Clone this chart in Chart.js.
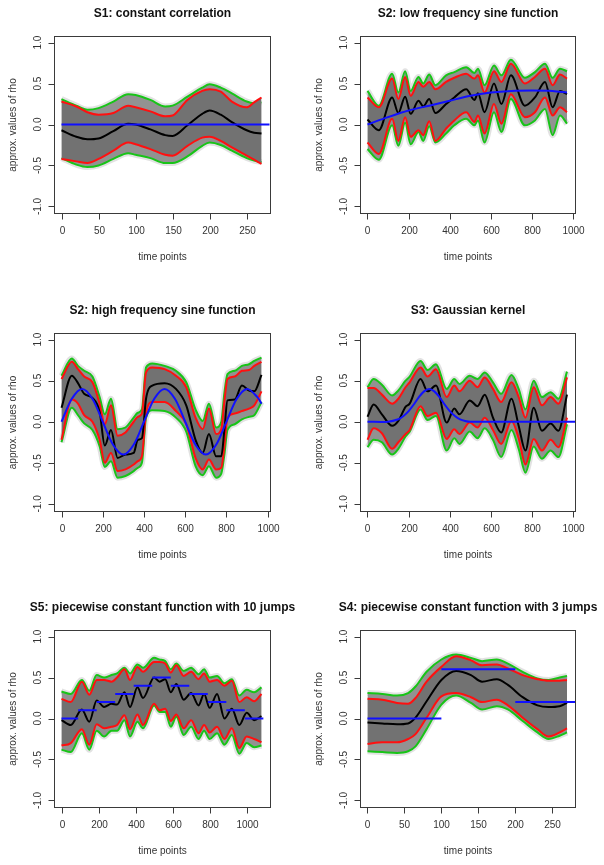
<!DOCTYPE html>
<html>
<head>
<meta charset="utf-8">
<title>rho estimates</title>
<script src="https://cdn.jsdelivr.net/npm/chart.js@4.4.1/dist/chart.umd.min.js"></script>
<style>
  html, body { margin: 0; padding: 0; background: #fff; }
  #wrap { position: relative; width: 604px; height: 865px; overflow: hidden; }
  #wrap canvas { position: absolute; }
</style>
</head>
<body>
<div id="wrap"></div>
<script>
// --- axes / labels ---
const yTicks = [-1, -0.5, 0, 0.5, 1];
const yTickLabels = ['-1.0', '-0.5', '0.0', '0.5', '1.0'];
const xTicks300 = [0, 50, 100, 150, 200, 250];
const xTicks1000 = [0, 200, 400, 600, 800, 1000];
const titles = [
    'S1: constant correlation',
    'S2: low frequency sine function',
    'S2: high frequency sine function',
    'S3: Gaussian kernel',
    'S5: piecewise constant function with 10 jumps',
    'S4: piecewise constant function with 3 jumps'
];

// --- S1 ---
const s1Time     = [0, 20, 35, 50, 70, 90, 100, 120, 140, 150, 170, 190, 200, 215, 230, 250, 260, 270];
const s1Black    = [-0.07, -0.15, -0.18, -0.17, -0.08, 0.01, 0.00, -0.06, -0.13, -0.14, -0.01, 0.13, 0.17, 0.12, 0.03, -0.07, -0.10, -0.11];
const s1RedUp    = [0.28, 0.22, 0.15, 0.12, 0.14, 0.23, 0.21, 0.16, 0.10, 0.11, 0.30, 0.41, 0.43, 0.40, 0.28, 0.21, 0.27, 0.33];
const s1RedLow   = [-0.42, -0.45, -0.47, -0.42, -0.32, -0.22, -0.24, -0.30, -0.37, -0.38, -0.26, -0.16, -0.15, -0.20, -0.28, -0.38, -0.43, -0.48];
const s1GreenUp  = [0.31, 0.23, 0.18, 0.20, 0.28, 0.37, 0.36, 0.30, 0.22, 0.23, 0.34, 0.45, 0.49, 0.45, 0.38, 0.28, 0.26, 0.27];
const s1GreenLow = [-0.41, -0.49, -0.52, -0.50, -0.42, -0.35, -0.37, -0.41, -0.47, -0.47, -0.39, -0.26, -0.22, -0.25, -0.32, -0.41, -0.44, -0.46];
const s1BlueTime = [0, 300];
const s1Blue     = [0, 0];

// --- S2 low frequency ---
const s2lTime     = [0, 55, 120, 150, 183, 210, 248, 271, 300, 330, 382, 422, 480, 520, 537, 569, 615, 651, 697, 765, 814, 863, 900, 936, 970];
const s2lBlack    = [0.06, -0.07, 0.33, 0.14, 0.34, 0.13, 0.29, 0.22, 0.31, 0.14, 0.25, 0.33, 0.43, 0.30, 0.38, 0.15, 0.50, 0.25, 0.60, 0.23, 0.33, 0.52, 0.21, 0.41, 0.37];
const s2lRedUp    = [0.33, 0.21, 0.56, 0.31, 0.58, 0.35, 0.52, 0.46, 0.52, 0.43, 0.52, 0.57, 0.62, 0.56, 0.60, 0.39, 0.65, 0.52, 0.74, 0.50, 0.58, 0.68, 0.48, 0.61, 0.56];
const s2lRedLow   = [-0.22, -0.36, 0.07, -0.20, 0.09, -0.15, -0.07, -0.13, 0.04, -0.20, -0.05, 0.05, 0.15, 0.03, 0.11, -0.11, 0.25, 0.01, 0.37, 0.09, 0.15, 0.33, 0.11, 0.21, 0.15];
const s2lGreenUp  = [0.41, 0.23, 0.62, 0.39, 0.65, 0.41, 0.58, 0.50, 0.61, 0.48, 0.60, 0.64, 0.70, 0.63, 0.68, 0.48, 0.72, 0.60, 0.79, 0.57, 0.64, 0.74, 0.57, 0.68, 0.65];
const s2lGreenLow = [-0.30, -0.43, -0.01, -0.26, 0.02, -0.24, -0.09, -0.20, -0.02, -0.22, -0.11, -0.01, 0.07, -0.01, 0.05, -0.22, 0.15, -0.09, 0.31, -0.01, 0.05, 0.19, -0.13, 0.11, 0.01];
const s2lBlueTime = [0, 100, 200, 300, 400, 500, 600, 700, 800, 900, 970];
const s2lBlue     = [0.00, 0.09, 0.17, 0.23, 0.29, 0.35, 0.39, 0.41, 0.415, 0.41, 0.39];

// --- S2 high frequency ---
const s2hTime     = [0, 50, 80, 110, 150, 185, 210, 240, 272, 310, 350, 370, 390, 410, 440, 500, 555, 605, 650, 685, 715, 750, 775, 790, 805, 840, 875, 910, 935, 970];
const s2hBlack    = [0.17, 0.56, 0.47, 0.34, 0.29, 0.12, -0.29, -0.10, -0.44, -0.40, -0.38, -0.22, -0.20, 0.28, 0.44, 0.47, 0.40, 0.20, -0.22, -0.38, -0.15, -0.42, -0.42, -0.10, 0.26, 0.27, 0.44, 0.38, 0.37, 0.57];
const s2hRedUp    = [0.52, 0.73, 0.64, 0.55, 0.48, 0.22, -0.03, 0.20, -0.17, -0.13, 0.00, 0.06, 0.10, 0.60, 0.66, 0.64, 0.56, 0.42, 0.05, -0.09, 0.16, -0.15, -0.09, 0.25, 0.52, 0.55, 0.62, 0.63, 0.68, 0.73];
const s2hRedLow   = [-0.22, 0.27, 0.22, 0.08, 0.00, -0.22, -0.50, -0.38, -0.60, -0.58, -0.52, -0.48, -0.42, 0.10, 0.24, 0.24, 0.13, -0.03, -0.44, -0.58, -0.46, -0.58, -0.56, -0.30, 0.05, 0.10, 0.13, 0.16, 0.20, 0.37];
const s2hGreenUp  = [0.56, 0.77, 0.68, 0.62, 0.55, 0.30, 0.09, 0.28, -0.09, -0.07, 0.05, 0.11, 0.15, 0.66, 0.71, 0.68, 0.62, 0.48, 0.15, 0.01, 0.22, -0.07, 0.00, 0.35, 0.58, 0.62, 0.68, 0.70, 0.74, 0.78];
const s2hGreenLow = [-0.25, 0.17, 0.08, -0.02, -0.10, -0.30, -0.55, -0.48, -0.68, -0.66, -0.60, -0.56, -0.50, 0.05, 0.14, 0.13, 0.05, -0.12, -0.54, -0.65, -0.54, -0.68, -0.63, -0.40, -0.10, -0.03, 0.03, 0.06, 0.08, 0.24];
const s2hBlueTime = [0, 50, 100, 150, 200, 250, 300, 350, 400, 450, 500, 550, 600, 650, 700, 750, 800, 850, 900, 950, 970];
const s2hBlue     = [0.00, 0.28, 0.40, 0.28, 0.00, -0.28, -0.40, -0.28, 0.00, 0.28, 0.40, 0.28, 0.00, -0.28, -0.40, -0.28, 0.00, 0.28, 0.40, 0.30, 0.22];

// --- S3 Gaussian kernel ---
const s3Time     = [0, 30, 70, 120, 150, 185, 205, 258, 292, 333, 385, 422, 447, 497, 535, 570, 610, 650, 700, 735, 768, 808, 848, 890, 928, 970];
const s3Black    = [0.06, 0.21, 0.09, -0.05, 0.01, 0.18, 0.22, 0.52, 0.37, 0.44, -0.01, 0.16, 0.09, 0.26, 0.19, 0.33, 0.05, -0.13, 0.28, -0.05, -0.35, 0.17, -0.11, -0.02, -0.11, 0.33];
const s3RedUp    = [0.41, 0.41, 0.33, 0.22, 0.28, 0.42, 0.48, 0.66, 0.55, 0.64, 0.30, 0.44, 0.37, 0.50, 0.42, 0.54, 0.40, 0.24, 0.48, 0.30, 0.05, 0.42, 0.20, 0.30, 0.22, 0.54];
const s3RedLow   = [-0.22, -0.08, -0.14, -0.33, -0.25, -0.15, -0.10, 0.19, 0.07, 0.11, -0.21, -0.09, -0.15, -0.01, -0.07, 0.05, -0.10, -0.27, 0.01, -0.20, -0.52, -0.21, -0.35, -0.22, -0.31, 0.05];
const s3GreenUp  = [0.42, 0.52, 0.45, 0.32, 0.38, 0.50, 0.55, 0.74, 0.63, 0.70, 0.40, 0.52, 0.46, 0.56, 0.52, 0.60, 0.48, 0.34, 0.57, 0.40, 0.15, 0.50, 0.30, 0.36, 0.28, 0.61];
const s3GreenLow = [-0.31, -0.22, -0.25, -0.40, -0.33, -0.18, -0.12, 0.15, 0.02, 0.07, -0.35, -0.20, -0.27, -0.12, -0.20, -0.08, -0.22, -0.43, -0.10, -0.33, -0.62, -0.30, -0.45, -0.35, -0.43, -0.03];
const s3BlueTime = [0, 100, 150, 175, 200, 225, 250, 275, 300, 325, 350, 375, 400, 425, 450, 475, 500, 1020];
const s3Blue     = [0, 0, 0.03, 0.07, 0.13, 0.21, 0.30, 0.37, 0.40, 0.37, 0.30, 0.21, 0.13, 0.07, 0.03, 0.01, 0, 0];

// --- S5 piecewise constant, 10 jumps ---
const s5Time     = [0, 50, 110, 150, 190, 230, 270, 300, 340, 370, 410, 440, 500, 530, 560, 590, 620, 660, 700, 740, 770, 800, 840, 880, 920, 960, 1000, 1040, 1080];
const s5Black    = [-0.02, -0.08, 0.11, -0.04, 0.22, 0.14, 0.18, 0.17, 0.32, 0.14, 0.38, 0.25, 0.50, 0.45, 0.48, 0.32, 0.42, 0.23, 0.31, 0.16, 0.30, 0.13, 0.30, 0.00, 0.12, -0.08, 0.07, -0.02, 0.03];
const s5RedUp    = [0.24, 0.20, 0.45, 0.29, 0.47, 0.47, 0.45, 0.50, 0.60, 0.47, 0.63, 0.57, 0.69, 0.69, 0.67, 0.56, 0.65, 0.52, 0.57, 0.48, 0.55, 0.45, 0.47, 0.40, 0.46, 0.20, 0.26, 0.21, 0.30];
const s5RedLow   = [-0.33, -0.30, -0.13, -0.32, -0.07, -0.12, -0.10, -0.08, 0.04, -0.13, 0.05, -0.08, 0.18, 0.10, 0.12, -0.03, 0.05, -0.12, -0.02, -0.18, -0.08, -0.17, -0.10, -0.25, -0.12, -0.36, -0.22, -0.25, -0.29];
const s5GreenUp  = [0.33, 0.30, 0.47, 0.34, 0.53, 0.50, 0.53, 0.55, 0.62, 0.55, 0.66, 0.62, 0.74, 0.72, 0.70, 0.60, 0.67, 0.58, 0.62, 0.54, 0.60, 0.50, 0.52, 0.43, 0.48, 0.28, 0.35, 0.32, 0.38];
const s5GreenLow = [-0.38, -0.41, -0.18, -0.38, -0.15, -0.22, -0.15, -0.15, -0.02, -0.22, -0.04, -0.12, 0.16, 0.08, 0.08, -0.10, 0.02, -0.20, -0.10, -0.25, -0.15, -0.25, -0.18, -0.32, -0.20, -0.43, -0.30, -0.35, -0.33];
const s5BlueStart = [0, 90, 190, 290, 390, 490, 590, 690, 790, 890, 990];
const s5BlueEnd   = [90, 190, 290, 390, 490, 590, 690, 790, 890, 990, 1090];
const s5BlueLevel = [0.0, 0.1, 0.2, 0.3, 0.4, 0.5, 0.4, 0.3, 0.2, 0.1, 0.0];

// --- S4 piecewise constant, 3 jumps ---
const s4Time     = [0, 20, 40, 55, 65, 80, 100, 120, 140, 155, 175, 190, 210, 230, 245, 260, 270];
const s4Black    = [-0.05, -0.06, -0.07, -0.06, 0.01, 0.21, 0.47, 0.58, 0.53, 0.45, 0.48, 0.41, 0.26, 0.16, 0.14, 0.15, 0.19];
const s4RedUp    = [0.24, 0.23, 0.19, 0.18, 0.25, 0.45, 0.63, 0.76, 0.71, 0.65, 0.66, 0.61, 0.53, 0.48, 0.46, 0.46, 0.47];
const s4RedLow   = [-0.31, -0.29, -0.29, -0.25, -0.19, 0.01, 0.27, 0.31, 0.26, 0.20, 0.23, 0.16, 0.01, -0.13, -0.22, -0.17, -0.12];
const s4GreenUp  = [0.31, 0.30, 0.28, 0.31, 0.39, 0.57, 0.72, 0.78, 0.74, 0.70, 0.72, 0.67, 0.57, 0.49, 0.47, 0.50, 0.52];
const s4GreenLow = [-0.40, -0.41, -0.42, -0.40, -0.34, -0.13, 0.17, 0.28, 0.19, 0.11, 0.15, 0.11, -0.03, -0.17, -0.25, -0.21, -0.17];
const s4BlueStart = [0, 100, 200];
const s4BlueEnd   = [100, 200, 290];
const s4BlueLevel = [0.0, 0.6, 0.2];

// helpers
function pts(xs, ys) {
    return xs.map((x, i) => ({ x: x, y: ys[i] }));
}
function steps(starts, ends, levels) {
    const out = [];
    starts.forEach((s, i) => {
        out.push({ x: s, y: levels[i] }, { x: ends[i], y: levels[i] });
        if (i < starts.length - 1) out.push({ x: ends[i], y: null });
    });
    return out;
}

const FONT = '"Liberation Sans", Arial, Helvetica, sans-serif';

// R style box, ticks and labels
const rAxes = {
    id: 'rAxes',
    afterDraw(chart, args, o) {
        const ctx = chart.ctx;
        const a = chart.chartArea;
        const xs = chart.scales.x, ys = chart.scales.y;
        ctx.save();
        ctx.strokeStyle = '#3a3a3a';
        ctx.lineWidth = 1;
        const L = Math.round(a.left) + 0.5, T = Math.round(a.top) + 0.5;
        const R = Math.round(a.right) + 0.5, B = Math.round(a.bottom) + 0.5;
        ctx.strokeRect(L, T, R - L, B - T);

        ctx.fillStyle = '#333';
        ctx.font = '10px ' + FONT;
        ctx.textAlign = 'center';
        ctx.textBaseline = 'middle';
        ctx.beginPath();
        o.xTicks.forEach(v => {
            const px = Math.round(xs.getPixelForValue(v)) + 0.5;
            ctx.moveTo(px, B); ctx.lineTo(px, B + 6);
            ctx.fillText(String(v), px, B + 18);
        });
        yTicks.forEach(v => {
            const py = Math.round(ys.getPixelForValue(v)) + 0.5;
            ctx.moveTo(L - 6, py); ctx.lineTo(L, py);
        });
        ctx.stroke();
        yTicks.forEach((v, i) => {
            const py = ys.getPixelForValue(v);
            ctx.save();
            ctx.translate(L - 16, py);
            ctx.rotate(-Math.PI / 2);
            ctx.fillText(yTickLabels[i], 0, 0);
            ctx.restore();
        });

        const cx = (L + R) / 2;
        ctx.fillText('time points', cx, B + 44);
        ctx.save();
        ctx.translate(L - 41, (T + B) / 2);
        ctx.rotate(-Math.PI / 2);
        ctx.fillText('approx. values of rho', 0, 0);
        ctx.restore();

        ctx.fillStyle = '#111';
        ctx.font = 'bold 12px ' + FONT;
        ctx.fillText(o.title, cx, T - 23);
        ctx.restore();
    }
};

// panel layout (canvas position + plot box inside the page)
const panels = [
    { left: 0,   top: 0,   h: 290, box: [53.5, 36, 269.5, 213],  xr: [-10.8, 280.8],  xt: xTicks300,
      t: s1Time, black: s1Black, ru: s1RedUp, rl: s1RedLow, gu: s1GreenUp, gl: s1GreenLow, blue: pts(s1BlueTime, s1Blue) },
    { left: 302, top: 0,   h: 290, box: [359.5, 36, 575, 213],   xr: [-38.8, 1008.8], xt: xTicks1000,
      t: s2lTime, black: s2lBlack, ru: s2lRedUp, rl: s2lRedLow, gu: s2lGreenUp, gl: s2lGreenLow, blue: pts(s2lBlueTime, s2lBlue) },
    { left: 0,   top: 290, h: 290, box: [53.5, 333, 269.5, 510.5], xr: [-38.8, 1008.8], xt: xTicks1000,
      t: s2hTime, black: s2hBlack, ru: s2hRedUp, rl: s2hRedLow, gu: s2hGreenUp, gl: s2hGreenLow, blue: pts(s2hBlueTime, s2hBlue) },
    { left: 302, top: 290, h: 290, box: [359.5, 333, 575, 510.5], xr: [-38.8, 1008.8], xt: xTicks1000,
      t: s3Time, black: s3Black, ru: s3RedUp, rl: s3RedLow, gu: s3GreenUp, gl: s3GreenLow, blue: pts(s3BlueTime, s3Blue) },
    { left: 0,   top: 580, h: 285, box: [53.5, 630, 269.5, 807],  xr: [-43.2, 1123.2], xt: xTicks1000,
      t: s5Time, black: s5Black, ru: s5RedUp, rl: s5RedLow, gu: s5GreenUp, gl: s5GreenLow, blue: steps(s5BlueStart, s5BlueEnd, s5BlueLevel) },
    { left: 302, top: 580, h: 285, box: [359.5, 630, 575, 807],   xr: [-10.8, 280.8],  xt: xTicks300,
      t: s4Time, black: s4Black, ru: s4RedUp, rl: s4RedLow, gu: s4GreenUp, gl: s4GreenLow, blue: steps(s4BlueStart, s4BlueEnd, s4BlueLevel) }
];

const wrap = document.getElementById('wrap');

panels.forEach((p, k) => {
    const cv = document.createElement('canvas');
    cv.width = 302; cv.height = p.h;
    cv.style.left = p.left + 'px';
    cv.style.top = p.top + 'px';
    cv.style.width = '302px';
    cv.style.height = p.h + 'px';
    wrap.appendChild(cv);

    const line = (data, color, width, order, extra) => Object.assign({
        data: data, borderColor: color, borderWidth: width, pointRadius: 0,
        cubicInterpolationMode: 'monotone', fill: false, order: order
    }, extra || {});

    new Chart(cv.getContext('2d'), {
        type: 'line',
        data: {
            datasets: [
                line(p.blue, '#1010ff', 2, 0, { cubicInterpolationMode: 'default', tension: 0.3, spanGaps: false }),
                line(pts(p.t, p.black), '#000000', 2, 1),
                line(pts(p.t, p.ru), '#ff1010', 2, 2),
                line(pts(p.t, p.rl), '#ff1010', 2, 2, { fill: 2, backgroundColor: 'rgb(114,114,114)' }),
                line(pts(p.t, p.gu), '#18c418', 2, 3),
                line(pts(p.t, p.gl), '#18c418', 2, 3, { fill: 4, backgroundColor: 'rgb(146,146,146)' }),
                // faint halo of the outer grey trajectories
                line(pts(p.t, p.gu), 'rgba(190,190,190,0.45)', 6, 4),
                line(pts(p.t, p.gl), 'rgba(190,190,190,0.45)', 6, 4)
            ]
        },
        options: {
            responsive: false,
            animation: false,
            devicePixelRatio: 1,
            layout: {
                padding: {
                    left: p.box[0] - p.left,
                    top: p.box[1] - p.top,
                    right: p.left + 302 - p.box[2],
                    bottom: p.top + p.h - p.box[3]
                }
            },
            scales: {
                x: { type: 'linear', min: p.xr[0], max: p.xr[1], display: false },
                y: { type: 'linear', min: -1.08, max: 1.08, display: false }
            },
            plugins: {
                legend: { display: false },
                tooltip: { enabled: false },
                rAxes: { title: titles[k], xTicks: p.xt }
            }
        },
        plugins: [rAxes]
    });
});
</script>
</body>
</html>
